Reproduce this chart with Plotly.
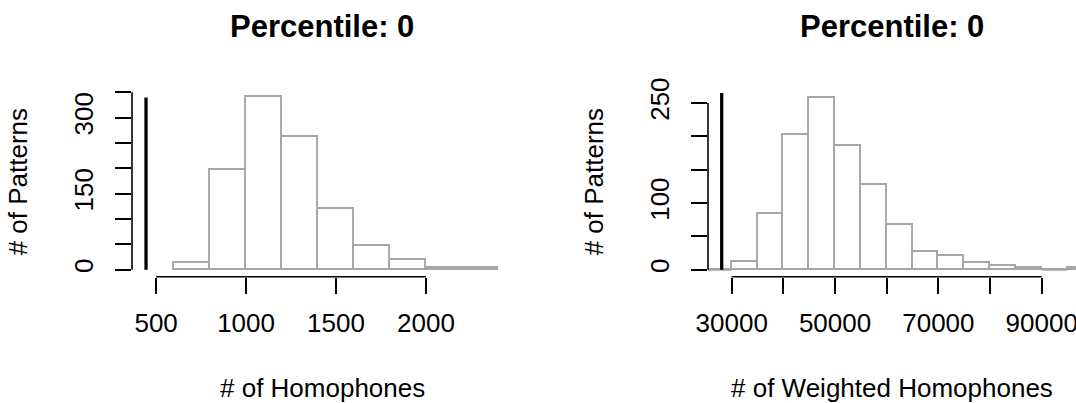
import plotly.graph_objects as go

# ---- Left panel: number of homophones per pattern ----
hom_edges = [600, 800, 1000, 1200, 1400, 1600, 1800, 2000, 2200, 2400]
hom_counts = [14, 196, 340, 261, 120, 47, 20, 4, 3]
hom_observed = 444
hom_line_top = 340
hom_xticks = [500, 1000, 1500, 2000]
hom_xlabels = ["500", "1000", "1500", "2000"]
hom_yticks = [0, 50, 100, 150, 200, 250, 300, 350]
hom_ylabels = ["0", "", "", "150", "", "", "300", ""]

# ---- Right panel: weighted number of homophones ----
wh_edges = [25000, 30000, 35000, 40000, 45000, 50000, 55000, 60000,
            65000, 70000, 75000, 80000, 85000, 90000, 95000, 100000]
wh_counts = [0, 11, 83, 202, 258, 186, 127, 67, 27, 21, 10, 6, 3, 0, 2]
wh_observed = 28065
wh_line_top = 265
wh_xticks = [30000, 40000, 50000, 60000, 70000, 80000, 90000]
wh_xlabels = ["30000", "", "50000", "", "70000", "", "90000"]
wh_yticks = [0, 50, 100, 150, 200, 250]
wh_ylabels = ["0", "", "100", "", "", "250"]

titles = ["Percentile: 0", "Percentile: 0"]
xtitles = ["# of Homophones", "# of Weighted Homophones"]
ytitle = "# of Patterns"

FONT = "Liberation Sans, Arial, Helvetica, sans-serif"
BAR_EDGE = "#A6A6A6"
W, H = 1076, 403

fig = go.Figure()


def add_hist(edges, counts, xa, ya):
    centers = [(a + b) / 2 for a, b in zip(edges[:-1], edges[1:])]
    widths = [b - a for a, b in zip(edges[:-1], edges[1:])]
    fig.add_trace(go.Bar(
        x=centers, y=counts, width=widths,
        marker=dict(color="white", line=dict(color=BAR_EDGE, width=1.9)),
        xaxis=xa, yaxis=ya, showlegend=False, hoverinfo="skip",
    ))
    # empty bins are drawn as flat outlines on the baseline
    zx, zy = [], []
    for a, b, c in zip(edges[:-1], edges[1:], counts):
        if c == 0:
            zx += [a, b, None]
            zy += [0, 0, None]
    if zx:
        fig.add_trace(go.Scatter(
            x=zx, y=zy, mode="lines", line=dict(color=BAR_EDGE, width=1.9),
            xaxis=xa, yaxis=ya, showlegend=False, hoverinfo="skip",
        ))


def add_marker_line(xv, top, xa, ya):
    fig.add_trace(go.Scatter(
        x=[xv, xv], y=[0, top], mode="lines",
        line=dict(color="black", width=3.3),
        xaxis=xa, yaxis=ya, showlegend=False, hoverinfo="skip",
    ))


add_hist(hom_edges, hom_counts, "x", "y")
add_marker_line(hom_observed, hom_line_top, "x", "y")
add_hist(wh_edges, wh_counts, "x2", "y2")
add_marker_line(wh_observed, wh_line_top, "x2", "y2")

# plot regions (pixel boxes converted to paper fractions)
y_dom = [1 - 276.7 / H, 1 - 88 / H]
left_dom = [132 / W, 512 / W]
right_dom = [708 / W, 1.0]

tick_common = dict(
    ticks="outside", ticklen=16, tickwidth=1.6, tickcolor="black",
    showgrid=False, zeroline=False, showline=False,
    tickfont=dict(family=FONT, size=26, color="black"),
    fixedrange=True, automargin=False, ticklabeloverflow="allow",
)

fig.update_layout(
    width=W, height=H,
    margin=dict(l=0, r=0, t=0, b=0, autoexpand=False),
    paper_bgcolor="white", plot_bgcolor="white",
    bargap=0,
    xaxis=dict(domain=left_dom, range=[366, 2478], anchor="y",
               tickmode="array", tickvals=hom_xticks, ticktext=hom_xlabels,
               ticklabelstandoff=7, **tick_common),
    yaxis=dict(domain=y_dom, range=[-13.8, 358.5], anchor="x",
               tickmode="array", tickvals=hom_yticks, ticktext=hom_ylabels,
               tickangle=-90, ticklabelstandoff=12, **tick_common),
    xaxis2=dict(domain=right_dom, range=[25413, 96634], anchor="y2",
                tickmode="array", tickvals=wh_xticks, ticktext=wh_xlabels,
                ticklabelstandoff=7, **tick_common),
    yaxis2=dict(domain=y_dom, range=[-10.5, 272.5], anchor="x2",
                tickmode="array", tickvals=wh_yticks, ticktext=wh_ylabels,
                tickangle=-90, ticklabelstandoff=12, **tick_common),
    font=dict(family=FONT, color="black"),
)

# R-style axis lines: span only from the first to the last tick
axis_line = dict(color="black", width=1.6)
for xa, ya, xt, yt in [("x", "y", hom_xticks, hom_yticks),
                       ("x2", "y2", wh_xticks, wh_yticks)]:
    fig.add_shape(type="line", xref=xa, yref=f"{ya} domain",
                  x0=xt[0], x1=xt[-1], y0=0, y1=0, line=axis_line)
    fig.add_shape(type="line", xref=f"{xa} domain", yref=ya,
                  x0=0, x1=0, y0=yt[0], y1=yt[-1], line=axis_line)

# titles and axis labels
for i, (xa, ya) in enumerate([("x", "y"), ("x2", "y2")]):
    fig.add_annotation(text=f"<b>{titles[i]}</b>", xref=f"{xa} domain", yref="paper",
                       x=0.5, y=1 - 27 / H, xanchor="center", yanchor="middle",
                       showarrow=False, font=dict(family=FONT, size=31, color="black"))
    fig.add_annotation(text=xtitles[i], xref=f"{xa} domain", yref="paper",
                       x=0.5, y=1 - 388 / H, xanchor="center", yanchor="middle",
                       showarrow=False, font=dict(family=FONT, size=26, color="black"))
    fig.add_annotation(text=ytitle, xref=f"{xa} domain", yref=f"{ya} domain",
                       x=0, xshift=-114, y=0.5, xanchor="center", yanchor="middle",
                       textangle=-90, showarrow=False,
                       font=dict(family=FONT, size=26, color="black"))

fig.write_html("out.html")
